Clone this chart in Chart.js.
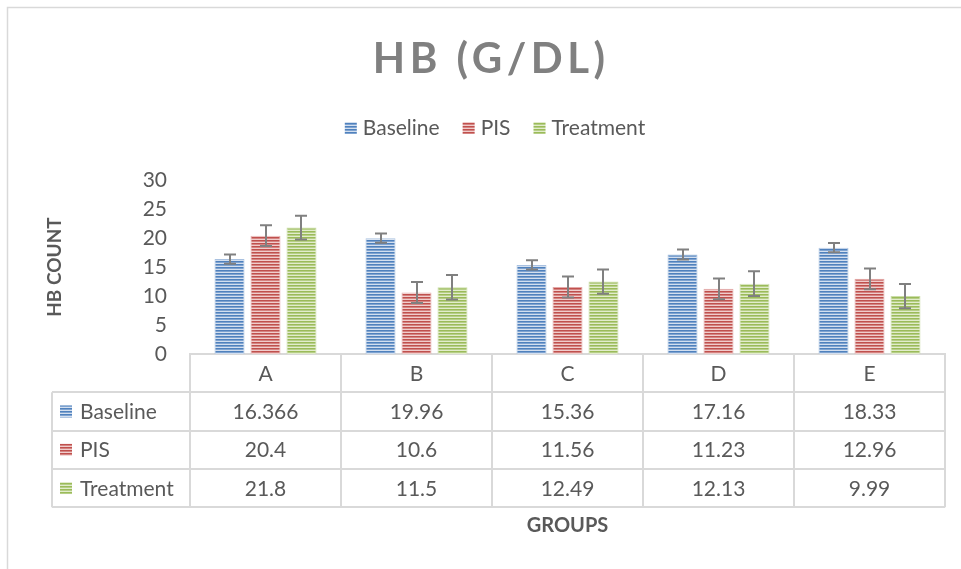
<!DOCTYPE html>
<html>
<head>
<meta charset="utf-8">
<script src="https://cdn.jsdelivr.net/npm/chart.js@4"></script>
<style>
  html, body { margin: 0; padding: 0; background: #fff; }
  #wrap { width: 961px; height: 569px; }
</style>
</head>
<body>
<div id="wrap"><canvas id="hbChart" width="961" height="569"></canvas></div>
<script>
// values
const groups = ['A', 'B', 'C', 'D', 'E'];
const baseline = [16.366, 19.96, 15.36, 17.16, 18.33];
const pis = [20.4, 10.6, 11.56, 11.23, 12.96];
const treatment = [21.8, 11.5, 12.49, 12.13, 9.99];
const baselineErr = [0.8, 0.8, 0.8, 0.85, 0.8];
const pisErr = [1.8, 1.8, 1.8, 1.8, 1.8];
const treatmentErr = [2.05, 2.1, 2.1, 2.15, 2.1];
const yTicks = [0, 5, 10, 15, 20, 25, 30];

const TEXT = '#595959';
const LINE = '#D9D9D9';

function stripes(dark, mid, light) {
    const c = document.createElement('canvas');
    c.width = 4; c.height = 3;
    const g = c.getContext('2d');
    g.fillStyle = dark; g.fillRect(0, 0, 4, 1);
    g.fillStyle = mid; g.fillRect(0, 1, 4, 1);
    g.fillStyle = light; g.fillRect(0, 2, 4, 1);
    return g.createPattern(c, 'repeat');
}

const blueFill = stripes('#4F81BD', '#7FA3D0', '#D3DFEF');
const redFill = stripes('#C0504D', '#D48482', '#F0CDCC');
const greenFill = stripes('#9BBB59', '#B6CE87', '#E2ECCC');

const series = [
    { label: 'Baseline', data: baseline, errs: baselineErr, fill: blueFill, edge: '#A9C1E0' },
    { label: 'PIS', data: pis, errs: pisErr, fill: redFill, edge: '#E3A9A8' },
    { label: 'Treatment', data: treatment, errs: treatmentErr, fill: greenFill, edge: '#CADDA8' }
];

const excelBits = {
    id: 'excelBits',
    beforeDraw(chart) {
        const ctx = chart.ctx;
        ctx.save();
        ctx.fillStyle = '#fff';
        ctx.fillRect(0, 0, chart.width, chart.height);
        ctx.strokeStyle = LINE;
        ctx.lineWidth = 1.5;
        ctx.strokeRect(7.5, 7.5, 1200, 1200);
        ctx.restore();
    },
    afterDatasetsDraw(chart) {
        const ctx = chart.ctx, y = chart.scales.y;
        ctx.save();
        ctx.strokeStyle = '#808080';
        ctx.lineWidth = 2;
        chart.data.datasets.forEach((ds, i) => {
            chart.getDatasetMeta(i).data.forEach((bar, j) => {
                const v = ds.data[j], e = ds.errs[j];
                const top = y.getPixelForValue(v + e), bot = y.getPixelForValue(v - e);
                const x = Math.round(bar.x);
                ctx.beginPath();
                ctx.moveTo(x, top); ctx.lineTo(x, bot);
                ctx.moveTo(x - 6, top); ctx.lineTo(x + 6, top);
                ctx.moveTo(x - 6, bot); ctx.lineTo(x + 6, bot);
                ctx.stroke();
            });
        });
        ctx.restore();
    },
    afterDraw(chart) {
        const ctx = chart.ctx, xs = chart.scales.x, area = chart.chartArea;
        const sets = chart.data.datasets;
        ctx.save();

        // title
        ctx.font = 'bold 42px Lato';
        ctx.letterSpacing = '4.5px';
        ctx.fillStyle = '#808080';
        ctx.textAlign = 'left';
        ctx.textBaseline = 'alphabetic';
        const title = 'HB (G/DL)';
        const tw = ctx.measureText(title).width - 4.5;
        ctx.fillText(title, 489 - tw / 2, 73);
        ctx.letterSpacing = '0px';

        // legend
        ctx.font = '21px Lato';
        const widths = sets.map(ds => 18 + ctx.measureText(ds.label).width);
        const total = widths.reduce((a, b) => a + b, 0) + 23 * (sets.length - 1);
        let lx = 495 - total / 2;
        sets.forEach((ds, i) => {
            ctx.fillStyle = ds.backgroundColor;
            ctx.fillRect(lx, 122, 12, 12);
            ctx.fillStyle = TEXT;
            ctx.fillText(ds.label, lx + 18, 135);
            lx += widths[i] + 23;
        });

        // data table
        const colW = (area.right - area.left) / chart.data.labels.length;
        const rowH = 38.3;
        const top = area.bottom;
        const tableLeft = 52;
        ctx.strokeStyle = LINE;
        ctx.lineWidth = 2;
        ctx.beginPath();
        for (let r = 1; r <= sets.length + 1; r++) {
            const yy = Math.round(top + r * rowH);
            ctx.moveTo(r === 1 ? tableLeft : tableLeft, yy);
            ctx.lineTo(area.right, yy);
        }
        ctx.moveTo(tableLeft, top + rowH);
        ctx.lineTo(tableLeft, top + rowH * (sets.length + 1));
        for (let c = 0; c <= chart.data.labels.length; c++) {
            const xx = Math.round(area.left + c * colW);
            ctx.moveTo(xx, top);
            ctx.lineTo(xx, top + rowH * (sets.length + 1));
        }
        ctx.stroke();

        ctx.font = '21px Lato';
        ctx.fillStyle = TEXT;
        ctx.textAlign = 'center';
        chart.data.labels.forEach((lab, c) => {
            ctx.fillText(lab, xs.getPixelForValue(c), top + rowH / 2 + 7.5);
        });
        sets.forEach((ds, r) => {
            const cy = top + rowH * (r + 1) + rowH / 2;
            ctx.fillStyle = ds.backgroundColor;
            ctx.fillRect(60, cy - 6, 12, 12);
            ctx.fillStyle = TEXT;
            ctx.textAlign = 'left';
            ctx.fillText(ds.label, 80, cy + 7.5);
            ctx.textAlign = 'center';
            ds.data.forEach((v, c) => {
                ctx.fillText(String(v), xs.getPixelForValue(c), cy + 7.5);
            });
        });
        ctx.restore();
    }
};

new Chart(document.getElementById('hbChart'), {
    type: 'bar',
    data: {
        labels: groups,
        datasets: series.map(s => ({
            label: s.label,
            data: s.data,
            errs: s.errs,
            backgroundColor: s.fill,
            borderColor: s.edge,
            borderWidth: { left: 1, right: 1, top: 1, bottom: 0 },
            categoryPercentage: 0.715,
            barPercentage: 0.833
        }))
    },
    options: {
        responsive: false,
        devicePixelRatio: 1,
        animation: false,
        layout: { padding: { top: 180, right: 16, bottom: 0, left: 0 } },
        plugins: {
            legend: { display: false },
            title: { display: false },
            tooltip: { enabled: false }
        },
        scales: {
            x: {
                grid: { display: false, drawTicks: false },
                border: { display: true, color: LINE, width: 2 },
                ticks: { display: false },
                title: {
                    display: true, text: 'GROUPS', color: TEXT,
                    font: { family: 'Lato', size: 20, weight: 'bold' },
                    padding: { top: 0, bottom: 31 }
                },
                afterFit: s => { s.height = 215; }
            },
            y: {
                min: 0,
                max: 30,
                afterBuildTicks: s => { s.ticks = yTicks.map(v => ({ value: v })); },
                grid: { display: false, drawTicks: false },
                border: { display: false },
                ticks: { color: TEXT, font: { family: 'Lato', size: 21 }, padding: 23 },
                title: {
                    display: true, text: 'HB COUNT', color: TEXT,
                    font: { family: 'Lato', size: 19, weight: 'bold' },
                    padding: { top: 43, bottom: 0 }
                },
                afterFit: s => { s.width = 190; }
            }
        }
    },
    plugins: [excelBits]
});
</script>
</body>
</html>
